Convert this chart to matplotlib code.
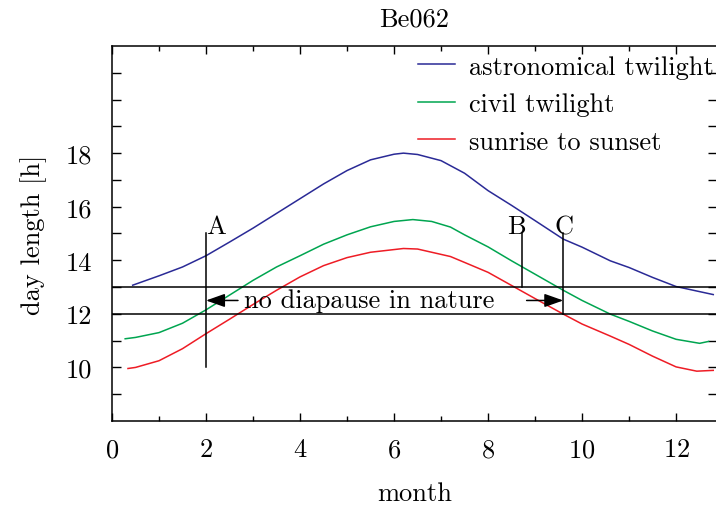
import matplotlib
matplotlib.use("Agg")
import matplotlib.pyplot as plt

plt.rcParams["font.family"] = "cmr10"
plt.rcParams["axes.formatter.use_mathtext"] = True
plt.rcParams["mathtext.fontset"] = "cm"

TITLE = "Be062"

# day length curves (month, hours)
astro_x = [0.44, 1.0, 1.5, 2.0, 2.5, 3.0, 3.5, 4.0, 4.5, 5.0, 5.5, 6.0, 6.2, 6.5,
           7.0, 7.5, 8.0, 8.5, 9.0, 9.6, 10.0, 10.6, 11.0, 11.5, 12.0, 12.5, 12.79]
astro_y = [13.07, 13.42, 13.75, 14.17, 14.68, 15.2, 15.75, 16.3, 16.85, 17.35, 17.75,
           17.96, 18.0, 17.95, 17.72, 17.25, 16.6, 16.05, 15.48, 14.79, 14.49, 13.98,
           13.73, 13.36, 13.02, 12.83, 12.72]

civil_x = [0.28, 0.5, 1.0, 1.5, 2.0, 2.5, 3.0, 3.5, 4.0, 4.5, 5.0, 5.5, 6.0, 6.4, 6.8,
           7.2, 7.5, 8.0, 8.5, 9.0, 9.6, 10.0, 10.6, 11.0, 11.5, 12.0, 12.5, 12.69]
civil_y = [11.07, 11.12, 11.3, 11.65, 12.15, 12.7, 13.25, 13.75, 14.17, 14.6, 14.95,
           15.25, 15.45, 15.52, 15.45, 15.24, 14.95, 14.5, 13.98, 13.48, 12.88, 12.5,
           11.99, 11.72, 11.36, 11.05, 10.9, 10.97]

sun_x = [0.34, 0.5, 1.0, 1.5, 2.0, 2.5, 3.0, 3.5, 4.0, 4.5, 5.0, 5.5, 6.2, 6.5, 7.2,
         7.5, 8.0, 8.5, 9.0, 9.6, 10.0, 10.6, 11.0, 11.5, 12.0, 12.44, 12.79]
sun_y = [9.96, 10.0, 10.25, 10.7, 11.26, 11.8, 12.35, 12.88, 13.38, 13.8, 14.1, 14.3,
         14.44, 14.42, 14.14, 13.92, 13.55, 13.06, 12.57, 11.99, 11.62, 11.17, 10.86,
         10.42, 10.02, 9.86, 9.89]

series_labels = ["astronomical twilight", "civil twilight", "sunrise to sunset"]
series_colors = ["#2a2a96", "#00a550", "#ee1c25"]

# threshold band and markers
band_levels = [12, 13]
marker_names = ["A", "B", "C"]
marker_x = [2.0, 8.73, 9.6]
marker_bottom = [10, 13, 12]
marker_top = 15
note_text = "no diapause in nature"

y_ticks = list(range(9, 22))
y_labeled = [10, 12, 14, 16, 18]
x_major = [0, 2, 4, 6, 8, 10, 12]
x_minor = [1, 3, 5, 7, 9, 11]

fig = plt.figure(figsize=(7.16, 5.06), dpi=100)
ax = fig.add_axes([112 / 716, 1 - 422 / 506, 605 / 716, 375 / 506])

lines = []
for xs, ys, c in zip([astro_x, civil_x, sun_x], [astro_y, civil_y, sun_y], series_colors):
    ln, = ax.plot(xs, ys, color=c, lw=1.1)
    lines.append(ln)

for lev in band_levels:
    ax.axhline(lev, color="black", lw=1.1)

for name, mx, mb in zip(marker_names, marker_x, marker_bottom):
    ax.plot([mx, mx], [mb, marker_top], color="black", lw=1.1)

ax.text(marker_x[0], marker_top, marker_names[0], ha="left", va="baseline", fontsize=19)
ax.text(marker_x[1] + 0.08, marker_top, marker_names[1], ha="right", va="baseline", fontsize=19)
ax.text(marker_x[2] + 0.02, marker_top, marker_names[2], ha="center", va="baseline", fontsize=19)

arrow_style = dict(arrowstyle="-|>,head_length=0.48,head_width=0.17", color="black",
                   lw=1.1, mutation_scale=24, shrinkA=0, shrinkB=0)
ax.annotate("", xy=(marker_x[0], 12.5), xytext=(2.68, 12.5), arrowprops=arrow_style)
ax.annotate("", xy=(marker_x[2], 12.5), xytext=(8.82, 12.5), arrowprops=arrow_style)
ax.text(5.47, 12.5, note_text, ha="center", va="center", fontsize=19)

ax.set_xlim(0, 12.87)
ax.set_ylim(8, 22)
ax.set_xticks(x_major)
ax.set_xticks(x_minor, minor=True)
ax.set_yticks(y_ticks)
ax.set_yticklabels([str(t) if t in y_labeled else "" for t in y_ticks])
ax.tick_params(which="both", direction="in", top=True, right=True, labelsize=19, width=1.0)
ax.tick_params(axis="y", length=6.5, pad=14)
ax.tick_params(axis="x", which="major", length=6, pad=12)
ax.tick_params(axis="x", which="minor", length=3.5)
for sp in ax.spines.values():
    sp.set_linewidth(1.1)

ax.set_xlabel("month", fontsize=19, labelpad=14)
ax.set_ylabel("day length [h]", fontsize=19, labelpad=14)
ax.set_title(TITLE, fontsize=19, pad=15)

ax.legend(lines, series_labels, loc="upper left", frameon=False, fontsize=19,
          bbox_to_anchor=(418 / 716, 1 - 56 / 506), bbox_transform=fig.transFigure,
          borderpad=0, borderaxespad=0, handlelength=1.4, handletextpad=0.55,
          labelspacing=0.52)

fig.savefig("out.png", dpi=100)
